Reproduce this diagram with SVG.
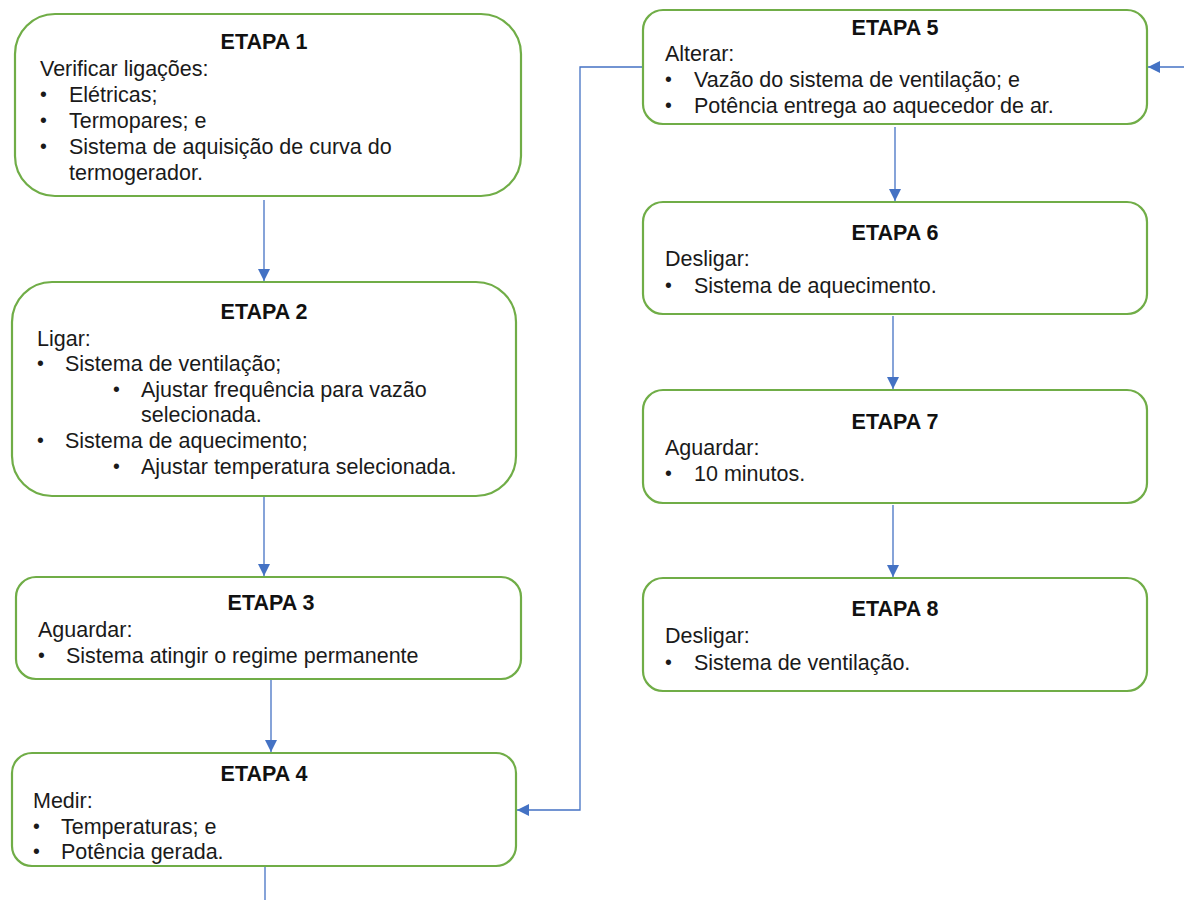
<svg xmlns="http://www.w3.org/2000/svg" width="1184" height="900" viewBox="0 0 1184 900">
  <style>
    .box { fill: #ffffff; stroke: #70AD47; stroke-width: 2.2; }
    .t { font-family: "Liberation Sans", Arial, sans-serif; font-size: 21.5px; fill: #1a1a1a; }
    .b { font-family: "Liberation Sans", Arial, sans-serif; font-size: 19.5px; fill: #1a1a1a; }
    .h { font-family: "Liberation Sans", Arial, sans-serif; font-size: 21.5px; font-weight: bold; fill: #111; text-anchor: middle; }
    .c { fill: none; stroke: #4472C4; stroke-width: 1.3; }
  </style>
  <defs>
    <marker id="arr" viewBox="0 0 10 10" refX="10" refY="5" markerWidth="12" markerHeight="12" markerUnits="userSpaceOnUse" orient="auto">
      <path d="M0,0 L10,5 L0,10 z" fill="#4472C4"/>
    </marker>
  </defs>
  <rect width="1184" height="900" fill="#ffffff"/>

  <g id="connectors">
    <path class="c" d="M264,200 V281" marker-end="url(#arr)"/>
    <path class="c" d="M264,497 V576" marker-end="url(#arr)"/>
    <path class="c" d="M271,680 V752" marker-end="url(#arr)"/>
    <path class="c" d="M265,867 V900"/>
    <path class="c" d="M643,67 H580 V810 H517" marker-end="url(#arr)"/>
    <path class="c" d="M1184,67 H1148" marker-end="url(#arr)"/>
    <path class="c" d="M895,127 V201" marker-end="url(#arr)"/>
    <path class="c" d="M893,316 V389" marker-end="url(#arr)"/>
    <path class="c" d="M893,505 V577" marker-end="url(#arr)"/>
  </g>

  <g id="etapa1">
    <rect class="box" x="15" y="14" width="506" height="182" rx="40"/>
    <text class="h" x="264" y="49">ETAPA 1</text>
    <text class="t" x="40" y="76">Verificar ligações:</text>
    <text class="b" x="40" y="101">•</text><text class="t" x="69" y="102">Elétricas;</text>
    <text class="b" x="40" y="127">•</text><text class="t" x="69" y="128">Termopares; e</text>
    <text class="b" x="40" y="153">•</text><text class="t" x="69" y="154">Sistema de aquisição de curva do</text>
    <text class="t" x="69" y="180">termogerador.</text>
  </g>

  <g id="etapa2">
    <rect class="box" x="12" y="282" width="504" height="214" rx="40"/>
    <text class="h" x="264" y="319">ETAPA 2</text>
    <text class="t" x="37" y="346">Ligar:</text>
    <text class="b" x="37" y="370">•</text><text class="t" x="65" y="371">Sistema de ventilação;</text>
    <text class="b" x="113" y="396">•</text><text class="t" x="141" y="397">Ajustar frequência para vazão</text>
    <text class="t" x="141" y="422">selecionada.</text>
    <text class="b" x="37" y="447">•</text><text class="t" x="65" y="448">Sistema de aquecimento;</text>
    <text class="b" x="113" y="473">•</text><text class="t" x="141" y="474">Ajustar temperatura selecionada.</text>
  </g>

  <g id="etapa3">
    <rect class="box" x="16" y="577" width="505" height="102" rx="20"/>
    <text class="h" x="271" y="610">ETAPA 3</text>
    <text class="t" x="38" y="637">Aguardar:</text>
    <text class="b" x="38" y="662">•</text><text class="t" x="66" y="663">Sistema atingir o regime permanente</text>
  </g>

  <g id="etapa4">
    <rect class="box" x="12" y="753" width="504" height="113" rx="20"/>
    <text class="h" x="264" y="781">ETAPA 4</text>
    <text class="t" x="33" y="808">Medir:</text>
    <text class="b" x="33" y="833">•</text><text class="t" x="61" y="834">Temperaturas; e</text>
    <text class="b" x="33" y="858">•</text><text class="t" x="61" y="859">Potência gerada.</text>
  </g>

  <g id="etapa5">
    <rect class="box" x="643" y="10" width="504" height="114" rx="20"/>
    <text class="h" x="895" y="35">ETAPA 5</text>
    <text class="t" x="665" y="61">Alterar:</text>
    <text class="b" x="665" y="86">•</text><text class="t" x="694" y="87">Vazão do sistema de ventilação; e</text>
    <text class="b" x="665" y="112">•</text><text class="t" x="694" y="113">Potência entrega ao aquecedor de ar.</text>
  </g>

  <g id="etapa6">
    <rect class="box" x="643" y="202" width="504" height="112" rx="20"/>
    <text class="h" x="895" y="240">ETAPA 6</text>
    <text class="t" x="665" y="266">Desligar:</text>
    <text class="b" x="665" y="292">•</text><text class="t" x="694" y="293">Sistema de aquecimento.</text>
  </g>

  <g id="etapa7">
    <rect class="box" x="643" y="390" width="504" height="113" rx="20"/>
    <text class="h" x="895" y="429">ETAPA 7</text>
    <text class="t" x="665" y="455">Aguardar:</text>
    <text class="b" x="665" y="480">•</text><text class="t" x="694" y="481">10 minutos.</text>
  </g>

  <g id="etapa8">
    <rect class="box" x="643" y="578" width="504" height="113" rx="20"/>
    <text class="h" x="895" y="616">ETAPA 8</text>
    <text class="t" x="665" y="643">Desligar:</text>
    <text class="b" x="665" y="669">•</text><text class="t" x="694" y="670">Sistema de ventilação.</text>
  </g>
</svg>
